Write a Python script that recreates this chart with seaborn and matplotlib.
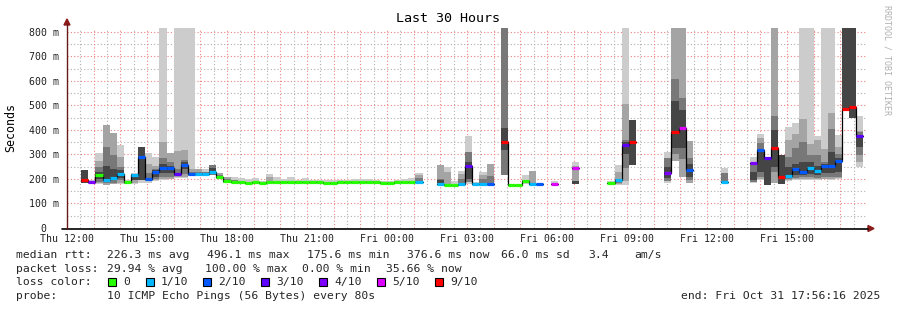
import numpy as np
import pandas as pd
import matplotlib
matplotlib.use("Agg")
import matplotlib.pyplot as plt
import seaborn as sns
from matplotlib.patches import Polygon, Rectangle
from matplotlib.lines import Line2D

sns.set_theme(style="white")
plt.rcParams["font.family"] = ["DejaVu Sans Mono", "DejaVu Sans"]

# ---------------- data ----------------
BIN_HOURS = 16 / 60  # one consolidated step = 16 minutes

bins = [2, 3, 4, 5, 6, 7, 8, 9, 10, 11, 12, 13, 14, 15, 16, 17, 18, 19, 20, 21,
        22, 23, 24, 25, 26, 27, 28, 29, 30, 31, 32, 33, 34, 35, 36, 37, 38, 39, 40, 41,
        42, 43, 44, 45, 46, 47, 48, 49, 52, 53, 54, 55, 56, 57, 58, 59, 61, 62, 63, 64,
        65, 66, 68, 71, 76, 77, 78, 79, 84, 85, 86, 87, 92, 96, 97, 98, 99, 100, 101, 102,
        103, 104, 105, 106, 107, 108, 109, 110, 111]

median_ms = [195, 189, 218, 196, 205, 220, 186, 215, 290, 199, 230, 244, 245, 220, 257, 220, 220, 222, 230, 209,
             192, 189, 189, 185, 189, 185, 189, 189, 189, 189, 188, 189, 189, 188, 184, 184, 186, 186, 186, 186,
             186, 186, 183, 182, 186, 186, 187, 188, 181, 177, 177, 181, 252, 178, 178, 178, 351, 175, 175, 190,
             178, 178, 181, 246, 182, 197, 339, 352, 223, 393, 409, 238, 189, 267, 317, 287, 326, 208, 213, 241,
             229, 244, 234, 252, 254, 273, 484, 495, 376]

loss_tenths = [9, 4, 0, 1, 1, 1, 0, 1, 2, 2, 2, 2, 2, 3, 2, 2, 1, 1, 1, 0,
               0, 0, 0, 0, 0, 0, 0, 0, 0, 0, 0, 0, 0, 0, 0, 0, 0, 0, 0, 0,
               0, 0, 0, 0, 0, 0, 0, 1, 1, 0, 0, 1, 3, 1, 1, 2, 9, 0, 0, 0,
               1, 2, 5, 5, 0, 1, 3, 9, 4, 9, 5, 2, 1, 4, 2, 3, 9, 9, 1, 2,
               2, 1, 1, 2, 2, 2, 9, 9, 3]

N = None
light_lo = [N, 180, 178, N, N, 180, 178, 180, 185, 185, 190, 195, N, 205, 205, 212, N, 212, N, N,
            N, 182, 183, 180, 182, 180, 182, 183, 183, 183, 182, 183, 184, 183, 180, 180, 180, 180, 182, 182,
            182, 182, 178, 176, 180, 182, 182, 183, N, 175, 175, 178, 180, 176, 176, N, N, N, N, 180,
            N, N, 178, 180, 178, 176, 176, N, 182, N, N, N, 182, 185, 196, N, N, N, 190, 195,
            195, 195, 196, 198, 196, 198, N, N, 250]
light_hi = [N, 195, 308, N, N, 339, 195, 225, 210, 306, 291, 816, N, 816, 816, 816, N, 240, N, N,
            N, 207, 203, 199, 203, 193, 220, 209, 201, 209, 197, 205, 197, 194, 196, 196, 196, 194, 199, 201,
            199, 196, 193, 190, 194, 198, 202, 226, N, 248, 190, 233, 375, 189, 229, N, N, N, N, 216,
            N, N, 190, 269, 192, 257, 816, N, 310, N, N, N, 246, 291, 384, N, N, N, 413, 430,
            816, 816, 375, 816, 816, 380, N, N, 457]
mid_lo = [N, 183, 182, 176, 178, 185, N, 182, N, 190, 195, 200, 200, 210, 210, 214, 213, N, N, 200,
          185, N, N, N, N, N, 185, N, N, N, N, N, N, N, N, N, N, N, N, N,
          N, N, N, N, N, N, N, 185, 178, 178, N, 180, N, N, 178, 177, N, N, N, N,
          177, N, N, 185, N, 180, 190, N, N, 275, 210, 185, N, N, 200, N, 182, N, 195, 200,
          200, 200, 200, 200, 200, 202, N, N, 271]
mid_hi = [N, 192, 275, 422, 389, 290, N, 222, N, 260, 254, 352, 307, 316, 318, 240, 241, N, N, 223,
          207, N, N, N, N, N, 210, N, N, N, N, N, N, N, N, N, N, N, N, N,
          N, N, N, N, N, N, N, 215, 257, 230, N, 220, N, N, 216, 261, N, N, N, N,
          233, N, N, 255, N, 230, 506, N, N, 816, 816, 355, N, N, 369, N, 816, N, 359, 384,
          445, 342, 359, 322, 471, 332, N, N, 396]
dark_lo = [N, N, 188, 182, 185, 195, 180, N, N, 195, 200, 210, 210, 212, 220, 216, 215, 216, 215, 203,
           188, 185, N, N, N, N, N, N, N, N, N, N, N, N, N, N, N, N, N, N,
           N, N, N, N, N, N, N, 190, 180, N, N, 182, 189, N, 182, 180, 216, N, N, 182,
           N, N, N, N, N, 182, 244, N, 190, 300, 280, 195, 185, 189, 210, N, 230, N, 200, 205,
           210, 210, 205, 210, 210, 210, N, N, 298]
dark_hi = [N, N, 250, 332, 298, 250, 192, N, N, 225, 240, 287, 270, 240, 278, 228, 228, 228, 257, 215,
           198, 195, N, N, N, N, N, N, N, N, N, N, N, N, N, N, N, N, N, N,
           N, N, N, N, N, N, N, 205, 200, N, N, 200, 311, N, 200, 212, 816, N, N, 195,
           N, N, N, N, N, 200, 359, N, 287, 608, 529, 284, 226, 262, 346, N, 455, N, 290, 325,
           350, 298, 298, 268, 404, 300, N, N, 390]
core_lo = [185, N, 200, 190, 195, 205, N, 195, 195, N, 210, 225, 225, N, 240, N, N, N, 220, N,
           N, N, N, N, N, N, N, N, N, N, N, N, N, N, N, N, N, N, N, N,
           N, N, N, N, N, N, N, N, 185, N, N, N, 200, N, N, N, 320, N, N, N,
           N, N, N, 180, N, N, 300, 257, 205, 325, 325, 210, N, 195, 230, 175, 250, 180, 205, 215,
           215, 220, 215, 225, 225, 230, 484, 448, 330]
core_hi = [238, N, 230, 253, 240, 235, N, 220, 330, N, 235, 260, 255, N, 270, N, N, N, 245, N,
           N, N, N, N, N, N, N, N, N, N, N, N, N, N, N, N, N, N, N, N,
           N, N, N, N, N, N, N, N, 195, N, N, N, 270, N, N, N, 407, N, N, N,
           N, N, N, 190, N, N, 350, 441, 250, 520, 482, 260, N, 230, 320, 290, 400, 298, 250, 260,
           271, 270, 255, 260, 311, 285, 816, 816, 380]

x_tick_hours = [0, 3, 6, 9, 12, 15, 18, 21, 24, 27]
x_tick_labels = ["Thu 12:00", "Thu 15:00", "Thu 18:00", "Thu 21:00", "Fri 00:00",
                 "Fri 03:00", "Fri 06:00", "Fri 09:00", "Fri 12:00", "Fri 15:00"]
y_tick_values = [0, 100, 200, 300, 400, 500, 600, 700, 800]
y_tick_labels = ["0  ", "100 m", "200 m", "300 m", "400 m", "500 m", "600 m", "700 m", "800 m"]

loss_levels = [0, 1, 2, 3, 4, 5, 9]
loss_names = ["0", "1/10", "2/10", "3/10", "4/10", "5/10", "9/10"]
loss_colors = ["#26ff00", "#00b8ff", "#0059ff", "#5e00ff", "#7e00ff", "#dd00ff", "#ff0000"]

stats_rtt = ["226.3 ms avg", "496.1 ms max", "175.6 ms min", "376.6 ms now", "66.0 ms sd", "3.4", "am/s"]
stats_loss = ["29.94 % avg", "100.00 % max", "0.00 % min", "35.66 % now"]

# ---------------- figure ----------------
W, H = 897, 310
fig = plt.figure(figsize=(W / 100, H / 100), dpi=100, facecolor="white")


def fx(px):
    return px / W


def fy(py):
    return 1 - py / H


ax = fig.add_axes([fx(67), fy(228), 800 / W, 200 / H])
ax.set_facecolor("white")
ax.set_xlim(0, 30)
ax.set_ylim(0, 816)
for s in ax.spines.values():
    s.set_visible(False)

# grid (drawn behind the data)
grid_kw = dict(lw=0.8, zorder=0)
for v in np.arange(50, 816, 100):
    ax.axhline(v, color="#b0b0b0", ls=(0, (1, 2)), **grid_kw)
for v in np.arange(100, 816, 100):
    ax.axhline(v, color="#f08080", ls=(0, (1, 2)), **grid_kw)
for h in np.arange(0.5, 30, 1.0):
    ax.axvline(h, color="#b0b0b0", ls=(0, (1, 2)), **grid_kw)
for h in np.arange(1, 30, 1.0):
    ax.axvline(h, color="#f08080", ls=(0, (1, 2)), **grid_kw)

# smoke layers
starts = np.array(bins) * BIN_HOURS
layers = [(light_lo, light_hi, "#cccccc"), (mid_lo, mid_hi, "#a4a4a4"),
          (dark_lo, dark_hi, "#787878"), (core_lo, core_hi, "#454545")]
for lo, hi, col in layers:
    xs, bots, hts = [], [], []
    for s, a, b in zip(starts, lo, hi):
        if a is None or b is None:
            continue
        xs.append(s)
        bots.append(a)
        hts.append(b - a)
    ax.bar(xs, hts, bottom=bots, width=BIN_HOURS, align="edge", color=col,
           linewidth=0, zorder=2)

# median step line (black), via seaborn
rows = []
run = 0
prev = None
for b, m in zip(bins, median_ms):
    if prev is not None and b != prev + 1:
        run += 1
    rows.append((b * BIN_HOURS, m, run))
    rows.append(((b + 1) * BIN_HOURS, m, run))
    prev = b
df = pd.DataFrame(rows, columns=["t", "med", "run"])
sns.lineplot(data=df, x="t", y="med", units="run", estimator=None, color="black",
             lw=0.9, ax=ax, zorder=3, legend=False, sort=False)

# loss-coloured median segments
cmap = dict(zip(loss_levels, loss_colors))
seg_cols = [cmap[l] for l in loss_tenths]
ax.hlines(median_ms, starts, starts + BIN_HOURS, colors=seg_cols, lw=2.3,
          capstyle="butt", zorder=4)

ax.set_xlabel("")
ax.set_ylabel("")
ax.set_xticks(x_tick_hours)
ax.set_xticklabels(x_tick_labels, fontsize=7.1, color="#202020")
ax.set_yticks(y_tick_values)
ax.set_yticklabels(y_tick_labels, fontsize=7.1, color="#202020")
ax.tick_params(axis="x", length=0, pad=4)
ax.tick_params(axis="y", length=0, pad=6)

# axes lines and arrows
fig.add_artist(Line2D([fx(62), fx(868)], [fy(228.5), fy(228.5)], color="black", lw=1.2,
                      transform=fig.transFigure))
fig.add_artist(Line2D([fx(67), fx(67)], [fy(228.5), fy(24)], color="#6a1a1a", lw=1.0,
                      transform=fig.transFigure))
arrow_col = "#8b1a1a"
fig.add_artist(Polygon([(fx(64), fy(25)), (fx(70), fy(25)), (fx(67), fy(19))], closed=True,
                       color=arrow_col, transform=fig.transFigure))
fig.add_artist(Polygon([(fx(868), fy(225.5)), (fx(868), fy(231.5)), (fx(874), fy(228.5))],
                       closed=True, color=arrow_col, transform=fig.transFigure))

# texts
fig.text(fx(448), fy(19), "Last 30 Hours", ha="center", va="center", fontsize=9.6, color="black")
fig.text(fx(11), fy(127), "Seconds", rotation=90, ha="center", va="center", fontsize=8.4,
         color="black")
fig.text(fx(887), fy(60), "RRDTOOL / TOBI OETIKER", rotation=270, ha="center", va="center",
         fontsize=6.0, color="#b0b0b0")

lfs = 8.2
line_y = [255, 268.5, 282, 296]
fig.text(fx(16), fy(line_y[0]), "median rtt:", ha="left", va="center", fontsize=lfs)
for xp, s in zip([107, 207, 307, 407, 501, 588, 634], stats_rtt):
    fig.text(fx(xp), fy(line_y[0]), s, ha="left", va="center", fontsize=lfs)
fig.text(fx(16), fy(line_y[1]), "packet loss:", ha="left", va="center", fontsize=lfs)
for xp, s in zip([107, 205, 302, 386], stats_loss):
    fig.text(fx(xp), fy(line_y[1]), s, ha="left", va="center", fontsize=lfs)
fig.text(fx(16), fy(line_y[2]), "loss color:", ha="left", va="center", fontsize=lfs)
box_x = [108, 146, 203, 261, 319, 377, 435]
for bx, name, col in zip(box_x, loss_names, loss_colors):
    fig.add_artist(Rectangle((fx(bx), fy(line_y[2] + 4)), 8 / W, 8 / H, facecolor=col,
                             edgecolor="black", lw=0.8, transform=fig.transFigure))
    fig.text(fx(bx + 15), fy(line_y[2]), name, ha="left", va="center", fontsize=lfs)
fig.text(fx(16), fy(line_y[3]), "probe:", ha="left", va="center", fontsize=lfs)
fig.text(fx(107), fy(line_y[3]), "10 ICMP Echo Pings (56 Bytes) every 80s", ha="left",
         va="center", fontsize=lfs)
fig.text(fx(880), fy(line_y[3]), "end: Fri Oct 31 17:56:16 2025", ha="right", va="center",
         fontsize=lfs)

fig.savefig("out.png", dpi=100, facecolor="white")
